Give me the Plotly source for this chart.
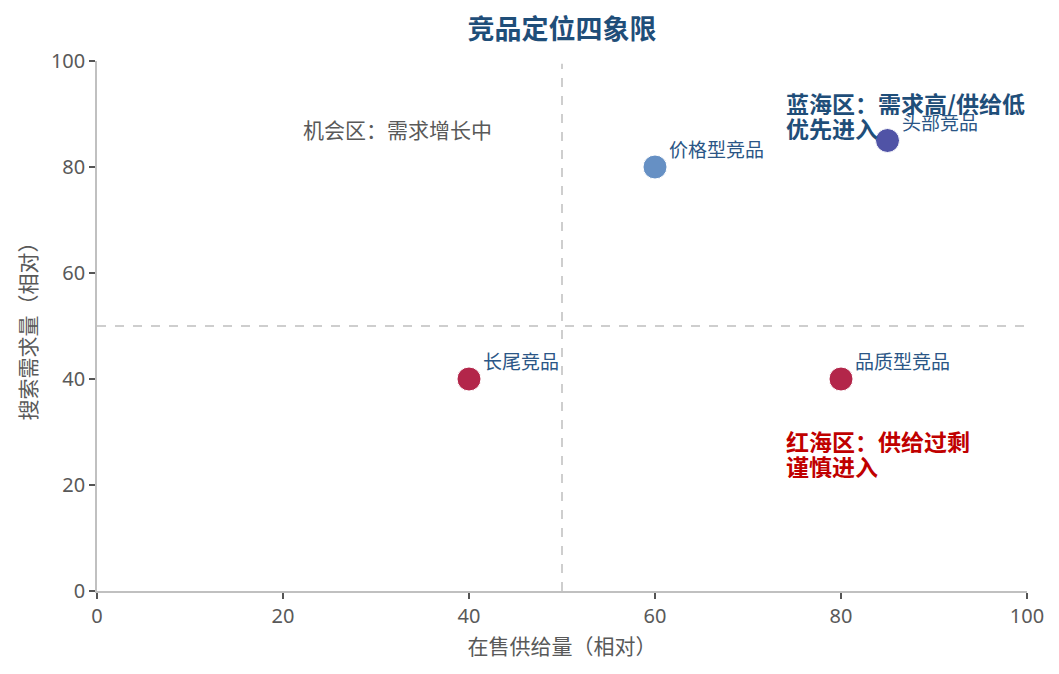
import plotly.graph_objects as go

names = ["价格型竞品", "头部竞品", "长尾竞品", "品质型竞品"]
supply = [60, 85, 40, 80]
demand = [80, 85, 40, 40]
colors = ["#6690c4", "#5053a6", "#b3264a", "#b3264a"]

blue_lines = ["<b>蓝海区：需求高/供给低</b>", "<b>优先进入</b>"]
red_lines = ["<b>红海区：供给过剩</b>", "<b>谨慎进入</b>"]
opp_text = "机会区：需求增长中"

FONT = "Noto Sans CJK SC, Microsoft YaHei, sans-serif"
NUMFONT = "Noto Sans, Segoe UI, sans-serif"

fig = go.Figure()
fig.add_trace(go.Scatter(
    x=supply, y=demand, mode="markers",
    marker=dict(size=24, color=colors, line=dict(width=1, color="white")),
    hoverinfo="skip", showlegend=False, cliponaxis=False,
))

for nm, xv, yv in zip(names, supply, demand):
    fig.add_annotation(x=xv, y=yv, xref="x", yref="y", text=nm, showarrow=False,
                       xanchor="left", yanchor="middle", xshift=13, yshift=19, borderpad=0,
                       font=dict(size=19, color="#2b5686", family=FONT))

fig.add_shape(type="line", x0=50, x1=50, y0=0, y1=99.5, xref="x", yref="y",
              line=dict(color="#bfbfbf", width=1.5, dash="dash"), layer="below")
fig.add_shape(type="line", x0=0, x1=100, y0=50, y1=50, xref="x", yref="y",
              line=dict(color="#bfbfbf", width=1.5, dash="dash"), layer="below")

for txt, yv in zip(blue_lines, [92.1, 87.4]):
    fig.add_annotation(x=74, y=yv, xref="x", yref="y", xanchor="left", yanchor="middle",
                       text=txt, showarrow=False, align="left", borderpad=0, height=24,
                       font=dict(size=23, color="#1f4e79", family=FONT))
for txt, yv in zip(red_lines, [28.3, 23.6]):
    fig.add_annotation(x=74, y=yv, xref="x", yref="y", xanchor="left", yanchor="middle",
                       text=txt, showarrow=False, align="left", borderpad=0, height=24,
                       font=dict(size=23, color="#c00000", family=FONT))
fig.add_annotation(x=32.3, y=87.2, xref="x", yref="y", xanchor="center", yanchor="middle",
                   text=opp_text, showarrow=False,
                   font=dict(size=21, color="#595959", family=FONT))

axis_common = dict(
    showgrid=False, zeroline=False, showline=True, linecolor="#c0c0c0", linewidth=1.5,
    ticks="outside", tickcolor="#555555", ticklen=6, tickwidth=1.5,
    tickfont=dict(size=20, color="#595959", family=NUMFONT),
    range=[0, 100], dtick=20,
)
fig.update_xaxes(**axis_common,
                 title=dict(text="在售供给量（相对）", font=dict(size=21, color="#595959", family=FONT), standoff=12))
fig.update_yaxes(**axis_common,
                 title=dict(text="搜索需求量（相对）", font=dict(size=21, color="#595959", family=FONT), standoff=9))

fig.update_layout(
    width=1059, height=674,
    margin=dict(l=89, r=40, t=53, b=91, autoexpand=False),
    plot_bgcolor="white", paper_bgcolor="white",
    title=dict(text="<b>竞品定位四象限</b>", xref="paper", x=0.5, xanchor="center",
               yref="container", y=0.968, yanchor="middle",
               font=dict(size=27, color="#1f4e79", family=FONT)),
)

fig.write_html("out.html")
